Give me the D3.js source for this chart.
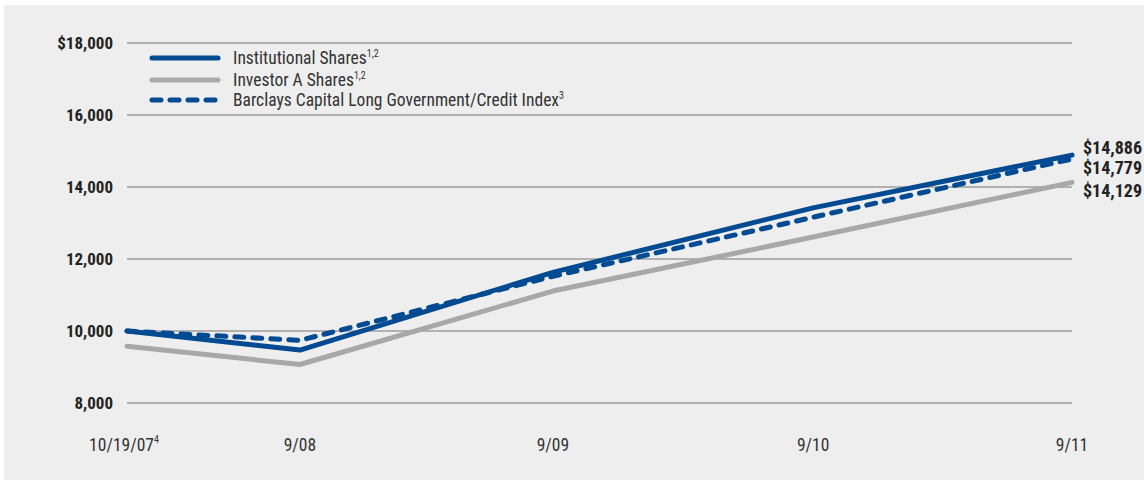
<!DOCTYPE html>
<html><head><meta charset="utf-8">
<script src="https://cdn.jsdelivr.net/npm/d3@7"></script>
<style>
body{margin:0;background:#fff;}
text{font-family:"Liberation Sans Narrow","Roboto Condensed","Arial Narrow","Liberation Sans",sans-serif;}
</style></head><body>
<svg id="c" width="1144" height="482"></svg>
<script>
const periods = ["10/19/07", "9/08", "9/09", "9/10", "9/11"];
const periodYears = [0, 0.668, 1.645, 2.65, 3.65];
const periodSup = ["4", "", "", "", ""];
const institutional = [10000, 9470, 11630, 13420, 14886];
const investorA = [9575, 9070, 11110, 12610, 14129];
const indexSeries = [10000, 9740, 11520, 13160, 14779];
const endLabels = ["$14,886", "$14,779", "$14,129"];
const yTicks = [8000, 10000, 12000, 14000, 16000, 18000];
const legendNames = ["Institutional Shares", "Investor A Shares", "Barclays Capital Long Government/Credit Index"];
const legendSups = ["1,2", "1,2", "3"];

const blue = "#024a92", gray = "#a8a8a8";
const svg = d3.select("#c");
svg.append("rect").attr("x",4).attr("y",5).attr("width",1140).attr("height",475).attr("fill","#eeeeee");

const x = d3.scaleLinear().domain([0, 3.65]).range([127, 1072]);
const y = d3.scaleLinear().domain([8000, 18000]).range([403, 43]);

svg.append("g").selectAll("line").data(yTicks).join("line")
  .attr("x1", 127).attr("x2", 1072)
  .attr("y1", d => y(d)).attr("y2", d => y(d))
  .attr("stroke", "#9c9c9c").attr("stroke-width", 1.5);

svg.append("g").selectAll("text").data(yTicks).join("text")
  .attr("x", 113).attr("y", d => y(d)).attr("dy", "0.35em")
  .attr("text-anchor", "end").attr("font-weight", "bold").attr("font-size", 17)
  .attr("fill", "#222")
  .text(d => (d === 18000 ? "$" : "") + d3.format(",")(d));

const xl = svg.append("g").selectAll("text").data(periods).join("text")
  .attr("x", (d,i) => x(periodYears[i]) - (periodSup[i] ? 3 : 0)).attr("y", 445).attr("dy","0.35em")
  .attr("text-anchor", "middle").attr("font-size", 17.5).attr("fill", "#333");
xl.append("tspan").text(d => d);
xl.append("tspan").attr("dy", -8).attr("font-size", 10).text((d,i) => periodSup[i]);

const line = d3.line().x((d,i) => x(periodYears[i])).y(d => y(d));

svg.append("path").datum(investorA).attr("d", line).attr("fill","none")
  .attr("stroke", gray).attr("stroke-width", 5).attr("stroke-linecap","round").attr("stroke-linejoin","round");
svg.append("path").datum(institutional).attr("d", line).attr("fill","none")
  .attr("stroke", blue).attr("stroke-width", 5).attr("stroke-linecap","round").attr("stroke-linejoin","round");
svg.append("path").datum(indexSeries).attr("d", line).attr("fill","none")
  .attr("stroke", blue).attr("stroke-width", 5).attr("stroke-linecap","round").attr("stroke-linejoin","round")
  .attr("stroke-dasharray", "9,9");

const endY = [148, 168, 191];
svg.append("g").selectAll("text").data(endLabels).join("text")
  .attr("x", 1083).attr("y", (d,i) => endY[i]).attr("dy","0.35em")
  .attr("font-weight","bold").attr("font-size", 18).attr("fill","#222")
  .text(d => d);

const lg = svg.append("g");
const lrows = [58, 80, 100];
legendNames.forEach((n,i) => {
  lg.append("line").attr("x1",152).attr("x2",218).attr("y1",lrows[i]).attr("y2",lrows[i])
    .attr("stroke", i===1 ? gray : blue).attr("stroke-width",5).attr("stroke-linecap","round")
    .attr("stroke-dasharray", i===2 ? "9,9" : null);
  const t = lg.append("text").attr("x",233).attr("y",lrows[i]).attr("dy","0.35em")
    .attr("font-size",17.5).attr("fill","#333");
  t.append("tspan").text(n);
  t.append("tspan").attr("dy",-7).attr("font-size",10).text(legendSups[i]);
});
</script>
</body></html>
